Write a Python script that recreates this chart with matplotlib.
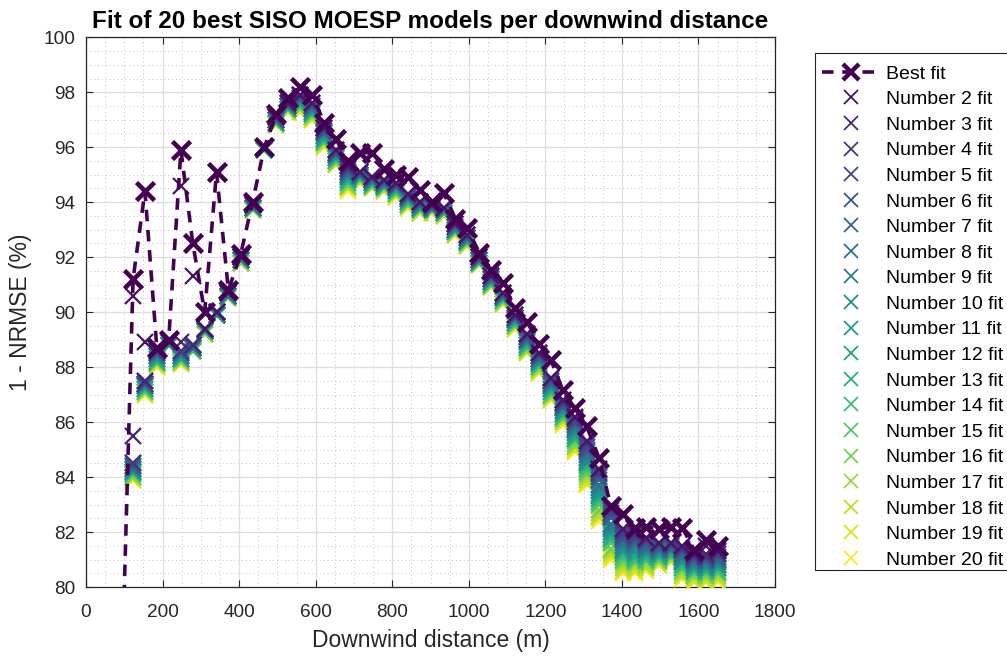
import matplotlib
matplotlib.use("Agg")
import matplotlib.pyplot as plt
from matplotlib.ticker import MultipleLocator
from matplotlib.lines import Line2D
from matplotlib.patches import Rectangle
import numpy as np

# Downwind distance (m)
distance = [92, 123, 154, 185, 216, 248, 279, 310, 341, 372, 404, 435, 466, 497, 528,
            560, 591, 622, 653, 684, 716, 747, 778, 809, 840, 872, 903, 934, 965, 996,
            1028, 1059, 1090, 1121, 1152, 1184, 1215, 1246, 1277, 1308, 1340, 1371, 1402,
            1433, 1464, 1496, 1527, 1558, 1589, 1620, 1652]

fit_01 = [76.0, 91.2, 94.4, 88.7, 89.0, 95.9, 92.5, 90.0, 95.1, 90.8, 92.1, 94.0, 96.0, 97.2, 97.8, 98.2, 97.9, 96.9, 96.3, 95.5, 95.8, 95.8, 95.2, 95.0, 94.9, 94.45, 94.0, 94.35, 93.4, 93.05, 92.15, 91.55, 91.05, 90.15, 89.65, 88.85, 88.25, 87.15, 86.5, 85.85, 84.7, 82.95, 82.65, 82.15, 82.2, 82.1, 82.2, 82.15, 81.35, 81.7, 81.5]
fit_02 = [74.0, 90.6, 88.9, 88.65, 88.95, 94.6, 91.3, 89.4, 90.0, 90.75, 92.0, 93.95, 96.0, 97.1, 97.6, 97.9, 97.6, 96.7, 95.9, 95.3, 95.1, 94.9, 94.8, 94.7, 94.3, 94.0, 93.9, 93.8, 93.2, 92.8, 92.0, 91.3, 90.7, 89.9, 89.2, 88.5, 87.6, 86.8, 86.2, 85.3, 84.3, 82.9, 82.1, 82.0, 81.8, 81.6, 81.6, 81.5, 81.2, 81.5, 81.3]
fit_03 = [73.0, 85.5, 87.5, 88.6, 88.9, 88.9, 88.8, 89.4, 90.0, 90.7, 92.0, 93.9, 96.0, 97.1, 97.6, 97.9, 97.6, 96.7, 95.9, 95.3, 95.1, 94.9, 94.8, 94.7, 94.3, 94.0, 93.9, 93.8, 93.2, 92.8, 92.0, 91.3, 90.7, 89.9, 89.2, 88.5, 87.6, 86.8, 86.2, 85.3, 84.3, 82.9, 82.1, 82.0, 81.8, 81.6, 81.6, 81.5, 81.2, 81.2, 81.3]
fit_04 = [72.9, 84.5, 87.5, 88.6, 88.9, 88.6, 88.8, 89.4, 90.0, 90.7, 92.0, 93.9, 96.0, 97.1, 97.6, 97.9, 97.6, 96.7, 95.9, 95.2, 95.1, 94.9, 94.8, 94.7, 94.3, 94.0, 93.9, 93.8, 93.2, 92.8, 92.0, 91.3, 90.7, 89.9, 89.2, 88.5, 87.6, 86.7, 86.1, 85.2, 84.2, 82.8, 82.0, 81.9, 81.7, 81.6, 81.6, 81.4, 81.1, 81.1, 81.2]
fit_05 = [72.9, 84.5, 87.4, 88.5, 88.9, 88.6, 88.8, 89.4, 90.0, 90.7, 92.0, 93.9, 96.0, 97.1, 97.6, 97.8, 97.5, 96.6, 95.8, 95.2, 95.1, 94.9, 94.8, 94.6, 94.2, 94.0, 93.9, 93.8, 93.2, 92.8, 92.0, 91.3, 90.7, 89.8, 89.1, 88.4, 87.5, 86.7, 86.0, 85.1, 84.1, 82.7, 81.9, 81.8, 81.7, 81.5, 81.5, 81.4, 81.1, 81.1, 81.2]
fit_06 = [72.8, 84.4, 87.4, 88.5, 88.9, 88.5, 88.8, 89.4, 90.0, 90.7, 92.0, 93.9, 96.0, 97.0, 97.5, 97.8, 97.5, 96.6, 95.8, 95.1, 95.0, 94.8, 94.7, 94.6, 94.2, 93.9, 93.8, 93.7, 93.1, 92.7, 91.9, 91.2, 90.6, 89.8, 89.1, 88.4, 87.5, 86.6, 86.0, 85.0, 84.0, 82.6, 81.8, 81.7, 81.6, 81.5, 81.5, 81.3, 81.0, 81.0, 81.1]
fit_07 = [72.8, 84.4, 87.4, 88.5, 88.9, 88.5, 88.7, 89.4, 90.0, 90.7, 92.0, 93.9, 96.0, 97.0, 97.5, 97.8, 97.5, 96.5, 95.8, 95.1, 95.0, 94.8, 94.7, 94.6, 94.2, 93.9, 93.8, 93.7, 93.1, 92.7, 91.9, 91.2, 90.6, 89.8, 89.0, 88.3, 87.4, 86.6, 85.9, 84.9, 83.9, 82.5, 81.7, 81.6, 81.5, 81.4, 81.4, 81.2, 81.0, 81.0, 81.0]
fit_08 = [72.7, 84.3, 87.4, 88.4, 88.9, 88.5, 88.7, 89.3, 90.0, 90.6, 91.9, 93.8, 96.0, 97.0, 97.5, 97.7, 97.4, 96.5, 95.7, 95.0, 95.0, 94.8, 94.7, 94.6, 94.2, 93.9, 93.8, 93.7, 93.1, 92.7, 91.9, 91.2, 90.6, 89.8, 89.0, 88.3, 87.4, 86.5, 85.8, 84.8, 83.7, 82.3, 81.6, 81.6, 81.4, 81.4, 81.4, 81.1, 80.9, 80.9, 81.0]
fit_09 = [72.6, 84.3, 87.3, 88.4, 88.8, 88.4, 88.7, 89.3, 89.9, 90.6, 91.9, 93.8, 96.0, 97.0, 97.5, 97.7, 97.4, 96.5, 95.7, 95.0, 95.0, 94.8, 94.7, 94.5, 94.1, 93.9, 93.8, 93.7, 93.1, 92.7, 91.9, 91.2, 90.6, 89.7, 89.0, 88.3, 87.3, 86.5, 85.7, 84.7, 83.6, 82.2, 81.5, 81.5, 81.4, 81.3, 81.4, 81.1, 80.8, 80.8, 80.9]
fit_10 = [72.6, 84.3, 87.3, 88.4, 88.8, 88.4, 88.7, 89.3, 89.9, 90.6, 91.9, 93.8, 96.0, 97.0, 97.5, 97.7, 97.4, 96.4, 95.7, 94.9, 94.9, 94.7, 94.6, 94.5, 94.1, 93.8, 93.8, 93.7, 93.0, 92.6, 91.9, 91.1, 90.5, 89.7, 88.9, 88.2, 87.3, 86.4, 85.7, 84.6, 83.5, 82.1, 81.4, 81.4, 81.3, 81.3, 81.3, 81.0, 80.8, 80.8, 80.8]
fit_11 = [72.5, 84.2, 87.3, 88.3, 88.8, 88.4, 88.7, 89.3, 89.9, 90.6, 91.9, 93.8, 96.0, 97.0, 97.5, 97.6, 97.3, 96.4, 95.6, 94.9, 94.9, 94.7, 94.6, 94.5, 94.1, 93.8, 93.8, 93.7, 93.0, 92.6, 91.9, 91.1, 90.5, 89.7, 88.9, 88.2, 87.2, 86.4, 85.6, 84.5, 83.4, 82.0, 81.3, 81.3, 81.2, 81.2, 81.3, 80.9, 80.7, 80.7, 80.8]
fit_12 = [72.5, 84.2, 87.2, 88.3, 88.8, 88.3, 88.7, 89.3, 89.9, 90.6, 91.9, 93.8, 95.9, 96.9, 97.4, 97.6, 97.3, 96.3, 95.6, 94.8, 94.9, 94.7, 94.6, 94.4, 94.0, 93.8, 93.7, 93.6, 93.0, 92.6, 91.8, 91.1, 90.5, 89.6, 88.8, 88.1, 87.2, 86.3, 85.5, 84.5, 83.3, 81.9, 81.3, 81.2, 81.2, 81.2, 81.2, 80.9, 80.7, 80.7, 80.7]
fit_13 = [72.4, 84.2, 87.2, 88.2, 88.8, 88.3, 88.7, 89.3, 89.9, 90.6, 91.9, 93.8, 95.9, 96.9, 97.4, 97.5, 97.2, 96.3, 95.6, 94.8, 94.9, 94.7, 94.6, 94.4, 94.0, 93.8, 93.7, 93.6, 93.0, 92.6, 91.8, 91.1, 90.5, 89.6, 88.8, 88.1, 87.1, 86.3, 85.4, 84.4, 83.2, 81.8, 81.2, 81.1, 81.1, 81.1, 81.2, 80.8, 80.6, 80.6, 80.7]
fit_14 = [72.4, 84.1, 87.2, 88.2, 88.8, 88.3, 88.6, 89.3, 89.9, 90.6, 91.9, 93.8, 95.9, 96.9, 97.4, 97.5, 97.2, 96.2, 95.5, 94.7, 94.8, 94.6, 94.5, 94.4, 94.0, 93.7, 93.7, 93.6, 92.9, 92.5, 91.8, 91.0, 90.4, 89.6, 88.7, 88.0, 87.1, 86.2, 85.4, 84.3, 83.1, 81.7, 81.1, 81.0, 81.0, 81.1, 81.1, 80.7, 80.6, 80.6, 80.6]
fit_15 = [72.3, 84.1, 87.1, 88.2, 88.8, 88.3, 88.6, 89.3, 89.9, 90.6, 91.9, 93.8, 95.9, 96.9, 97.4, 97.5, 97.2, 96.2, 95.5, 94.7, 94.8, 94.6, 94.5, 94.3, 93.9, 93.7, 93.7, 93.6, 92.9, 92.5, 91.8, 91.0, 90.4, 89.5, 88.7, 88.0, 87.0, 86.2, 85.3, 84.2, 83.0, 81.6, 81.0, 80.9, 81.0, 81.0, 81.1, 80.7, 80.5, 80.5, 80.5]
fit_16 = [72.2, 84.0, 87.1, 88.1, 88.8, 88.2, 88.6, 89.2, 89.9, 90.5, 91.8, 93.7, 95.9, 96.9, 97.4, 97.4, 97.1, 96.2, 95.5, 94.6, 94.8, 94.6, 94.5, 94.3, 93.9, 93.7, 93.7, 93.6, 92.9, 92.5, 91.8, 91.0, 90.4, 89.5, 88.7, 88.0, 87.0, 86.1, 85.2, 84.1, 82.8, 81.4, 80.9, 80.9, 80.9, 81.0, 81.1, 80.6, 80.4, 80.4, 80.5]
fit_17 = [72.2, 84.0, 87.1, 88.1, 88.8, 88.2, 88.6, 89.2, 89.9, 90.5, 91.8, 93.7, 95.9, 96.9, 97.4, 97.4, 97.1, 96.1, 95.4, 94.6, 94.8, 94.6, 94.5, 94.3, 93.9, 93.7, 93.7, 93.6, 92.9, 92.5, 91.8, 91.0, 90.4, 89.5, 88.6, 87.9, 86.9, 86.1, 85.1, 84.0, 82.7, 81.3, 80.8, 80.8, 80.8, 80.9, 81.0, 80.5, 80.4, 80.4, 80.4]
fit_18 = [72.1, 84.0, 87.1, 88.1, 88.8, 88.2, 88.6, 89.2, 89.9, 90.5, 91.8, 93.7, 95.9, 96.8, 97.3, 97.4, 97.1, 96.1, 95.4, 94.5, 94.7, 94.5, 94.4, 94.3, 93.9, 93.6, 93.6, 93.5, 92.8, 92.4, 91.7, 90.9, 90.3, 89.5, 88.6, 87.9, 86.9, 86.0, 85.1, 83.9, 82.6, 81.2, 80.7, 80.7, 80.7, 80.9, 81.0, 80.4, 80.3, 80.3, 80.3]
fit_19 = [72.1, 83.9, 87.0, 88.0, 88.8, 88.1, 88.6, 89.2, 89.9, 90.5, 91.8, 93.7, 95.9, 96.8, 97.3, 97.3, 97.0, 96.0, 95.4, 94.5, 94.7, 94.5, 94.4, 94.2, 93.8, 93.6, 93.6, 93.5, 92.8, 92.4, 91.7, 90.9, 90.3, 89.4, 88.5, 87.8, 86.8, 86.0, 85.0, 83.8, 82.5, 81.1, 80.6, 80.6, 80.7, 80.8, 80.9, 80.4, 80.2, 80.2, 80.3]
fit_20 = [72.0, 83.9, 87.0, 88.0, 88.8, 88.1, 88.6, 89.2, 89.9, 90.5, 91.8, 93.7, 95.9, 96.8, 97.3, 97.3, 97.0, 96.0, 95.35, 94.4, 94.7, 94.5, 94.4, 94.2, 93.8, 93.6, 93.6, 93.5, 92.8, 92.4, 91.7, 90.9, 90.3, 89.4, 88.5, 87.8, 86.8, 85.9, 84.9, 83.7, 82.4, 81.0, 80.5, 80.5, 80.6, 80.8, 80.9, 80.3, 80.2, 80.2, 80.2]

series = [fit_01, fit_02, fit_03, fit_04, fit_05, fit_06, fit_07, fit_08, fit_09, fit_10,
          fit_11, fit_12, fit_13, fit_14, fit_15, fit_16, fit_17, fit_18, fit_19, fit_20]
labels = ["Best fit"] + ["Number %d fit" % i for i in range(2, 21)]
x_ticks = [0, 200, 400, 600, 800, 1000, 1200, 1400, 1600, 1800]
y_ticks = [80, 82, 84, 86, 88, 90, 92, 94, 96, 98, 100]

plt.rcParams['font.family'] = ['Liberation Sans', 'DejaVu Sans']

W, H = 1007, 656
fig = plt.figure(figsize=(W / 100, H / 100), dpi=100)
ax = fig.add_axes([86 / W, 1 - 587 / H, (775 - 86) / W, (587 - 37.3) / H])

colors = plt.cm.viridis(np.linspace(0, 1, 20))
axis_col = '#262626'

handles = []
for i in range(19, 0, -1):
    ax.plot(distance, series[i], linestyle='none', marker='x', markersize=11,
            markeredgewidth=1.6, color=colors[i], zorder=3 + (19 - i) * 0.01, clip_on=True)
ax.plot(distance, series[0], linestyle=(0, (3.2, 2.4)), linewidth=2.6, marker='x',
        markersize=12.5, markeredgewidth=3.3, color=colors[0], zorder=5)

handles.append(Line2D([], [], linestyle=(0, (3.2, 2.4)), linewidth=2.6, marker='x',
                      markersize=12, markeredgewidth=3.2, color=colors[0]))
for i in range(1, 20):
    handles.append(Line2D([], [], linestyle='none', marker='x', markersize=10,
                          markeredgewidth=1.3, color=colors[i]))

ax.set_xlim(0, 1800)
ax.set_ylim(80, 100)
ax.set_xticks(x_ticks)
ax.set_yticks(y_ticks)
ax.xaxis.set_minor_locator(MultipleLocator(50))
ax.yaxis.set_minor_locator(MultipleLocator(0.5))
ax.grid(which='major', color='#dedede', linewidth=0.9, linestyle='-', zorder=0)
ax.grid(which='minor', color='#c4c4c4', linewidth=0.7, linestyle=(0, (1, 3)), zorder=0)
ax.set_axisbelow(True)
ax.tick_params(which='major', direction='in', length=5, width=0.8, top=True, right=True,
               labelsize=13.7, colors=axis_col)
ax.tick_params(axis='x', which='major', pad=12)
ax.tick_params(axis='y', which='major', pad=8)
ax.tick_params(which='minor', length=0, top=True, right=True)
for s in ax.spines.values():
    s.set_color(axis_col)
    s.set_linewidth(0.9)

ax.set_xlabel("Downwind distance (m)", fontsize=16.5, color=axis_col, labelpad=6)
ax.set_ylabel("1 - NRMSE (%)", fontsize=16.5, color=axis_col, labelpad=8)
ax.set_title("Fit of 20 best SISO MOESP models per downwind distance", fontsize=17.5,
             fontweight='bold', color='black', pad=7)

# legend (frame drawn separately to match the reference box)
leg = fig.legend(handles, labels, loc='upper left', bbox_to_anchor=(822 / W, 1 - 65.0 / H),
                 fontsize=14, frameon=False, handlelength=3.0, handletextpad=0.3,
                 labelspacing=0.41, borderpad=0.0, borderaxespad=0)
frame = Rectangle((815 / W, 1 - 570 / H), (1010 - 815) / W, (570 - 52.7) / H,
                  transform=fig.transFigure, fill=False, edgecolor='#262626',
                  linewidth=0.8, clip_on=False)
fig.patches.append(frame)

fig.savefig("out.png", dpi=100)
